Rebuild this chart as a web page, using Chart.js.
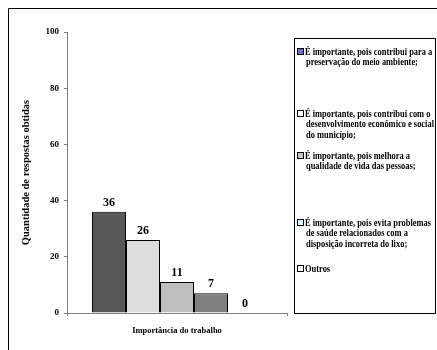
<!DOCTYPE html>
<html>
<head>
<meta charset="utf-8">
<script src="https://cdn.jsdelivr.net/npm/chart.js@4/dist/chart.umd.min.js"></script>
<style>
  html, body { margin: 0; padding: 0; background: #ffffff; }
  #wrap { width: 437px; height: 350px; }
</style>
</head>
<body>
<div id="wrap"><canvas id="c" width="437" height="350"></canvas></div>
<script>
// Responses per reason for the importance of the work
const categories = [''];
const seriesLabels = [
  ['É importante, pois contribui para a', 'preservação do meio ambiente;'],
  ['É importante, pois contribui com o', 'desenvolvimento econômico e social', 'do município;'],
  ['É importante, pois melhora a', 'qualidade de vida das pessoas;'],
  ['É importante, pois evita problemas', 'de saúde relacionados com a', 'disposição incorreta do lixo;'],
  ['Outros']
];
const seriesValues = [36, 26, 11, 7, 0];
const yTicks = [0, 20, 40, 60, 80, 100];
const yTitle = 'Quantidade de respostas obtidas';
const xTitle = 'Importância do trabalho';

// Styling
const barColors = ['#585858', '#dcdcdc', '#bdbdbd', '#808080', '#ffffff'];
const keyColors = ['#6b6bd0', '#ffffff', '#c8c8c8', '#ccffff', '#ffffff'];
const FONT = '"Liberation Serif", "Times New Roman", serif';

const datasets = seriesValues.map((v, i) => ({
  label: seriesLabels[i].join(' '),
  data: [v],
  backgroundColor: barColors[i],
  borderColor: '#000000',
  borderWidth: 1,
  categoryPercentage: 0.773,
  barPercentage: 1.0
}));

// Outer frame, value labels and the boxed key on the right
const decor = {
  id: 'decor',
  beforeDraw(chart) {
    const ctx = chart.ctx;
    ctx.save();
    ctx.fillStyle = '#ffffff';
    ctx.fillRect(0, 0, chart.width, chart.height);
    ctx.strokeStyle = '#000000';
    ctx.lineWidth = 1;
    ctx.beginPath();
    ctx.moveTo(8.5, chart.height + 2);
    ctx.lineTo(8.5, 8.5);
    ctx.lineTo(chart.width + 2, 8.5);
    ctx.stroke();
    ctx.restore();
  },
  afterDatasetsDraw(chart) {
    const ctx = chart.ctx;
    ctx.save();
    ctx.font = 'bold 12px ' + FONT;
    ctx.fillStyle = '#000000';
    ctx.textAlign = 'center';
    ctx.textBaseline = 'alphabetic';
    chart.data.datasets.forEach((ds, i) => {
      const el = chart.getDatasetMeta(i).data[0];
      ctx.fillText(String(ds.data[0]), el.x, el.y - 6);
    });
    ctx.restore();
  },
  afterDraw(chart) {
    const ctx = chart.ctx;
    const area = chart.chartArea;
    const boxL = 294.5, boxT = 38.5, boxR = 435.5, boxB = area.bottom + 0.5;
    const entryTops = [52, 114, 156, 223, 269];
    const lineGap = 10.5;
    ctx.save();
    ctx.strokeStyle = '#000000';
    ctx.lineWidth = 1;
    ctx.strokeRect(boxL, boxT, boxR - boxL, boxB - boxT);
    ctx.font = 'bold 10px ' + FONT;
    // narrow the key text so its widest line fits the box
    let widest = 0;
    seriesLabels.forEach(lines => lines.forEach(t => {
      widest = Math.max(widest, ctx.measureText(t).width);
    }));
    const sx = 128 / widest;
    ctx.textAlign = 'left';
    ctx.textBaseline = 'middle';
    seriesLabels.forEach((lines, i) => {
      const y0 = entryTops[i];
      ctx.fillStyle = keyColors[i];
      ctx.fillRect(297.5, y0 - 3.5, 6, 6);
      ctx.strokeStyle = '#000000';
      ctx.strokeRect(297.5, y0 - 3.5, 6, 6);
      ctx.fillStyle = '#000000';
      lines.forEach((t, k) => {
        ctx.save();
        ctx.translate(k === 0 ? 305 : 306, y0 + k * lineGap);
        ctx.scale(sx, 1);
        ctx.fillText(t, 0, 0);
        ctx.restore();
      });
    });
    ctx.restore();
  }
};

new Chart(document.getElementById('c'), {
  type: 'bar',
  data: { labels: categories, datasets },
  options: {
    responsive: false,
    animation: false,
    devicePixelRatio: 1,
    layout: { padding: { top: 32, right: 150, bottom: 0, left: 0 } },
    plugins: {
      legend: { display: false },
      tooltip: { enabled: false }
    },
    scales: {
      x: {
        afterFit(scale) { scale.height = 37; },
        grid: { display: true, drawOnChartArea: false, drawTicks: true, tickLength: 3, color: '#808080', offset: true },
        border: { display: true, color: '#808080', width: 1 },
        ticks: { display: false },
        title: {
          display: true,
          text: xTitle,
          color: '#000000',
          font: { family: FONT, size: 8.5, weight: 'bold' },
          padding: { top: 0, bottom: 14 }
        }
      },
      y: {
        min: 0,
        max: 100,
        afterFit(scale) { scale.width = 67; },
        afterBuildTicks(scale) { scale.ticks = yTicks.map(v => ({ value: v })); },
        grid: { display: true, drawOnChartArea: false, drawTicks: true, tickLength: 3, color: '#808080' },
        border: { display: true, color: '#808080', width: 1 },
        ticks: {
          color: '#000000',
          padding: 5,
          font: { family: FONT, size: 9, weight: 'bold' }
        },
        title: {
          display: true,
          text: yTitle,
          color: '#000000',
          font: { family: FONT, size: 10.5, weight: 'bold' },
          padding: { top: 20, bottom: 0 }
        }
      }
    }
  },
  plugins: [decor]
});
</script>
</body>
</html>
